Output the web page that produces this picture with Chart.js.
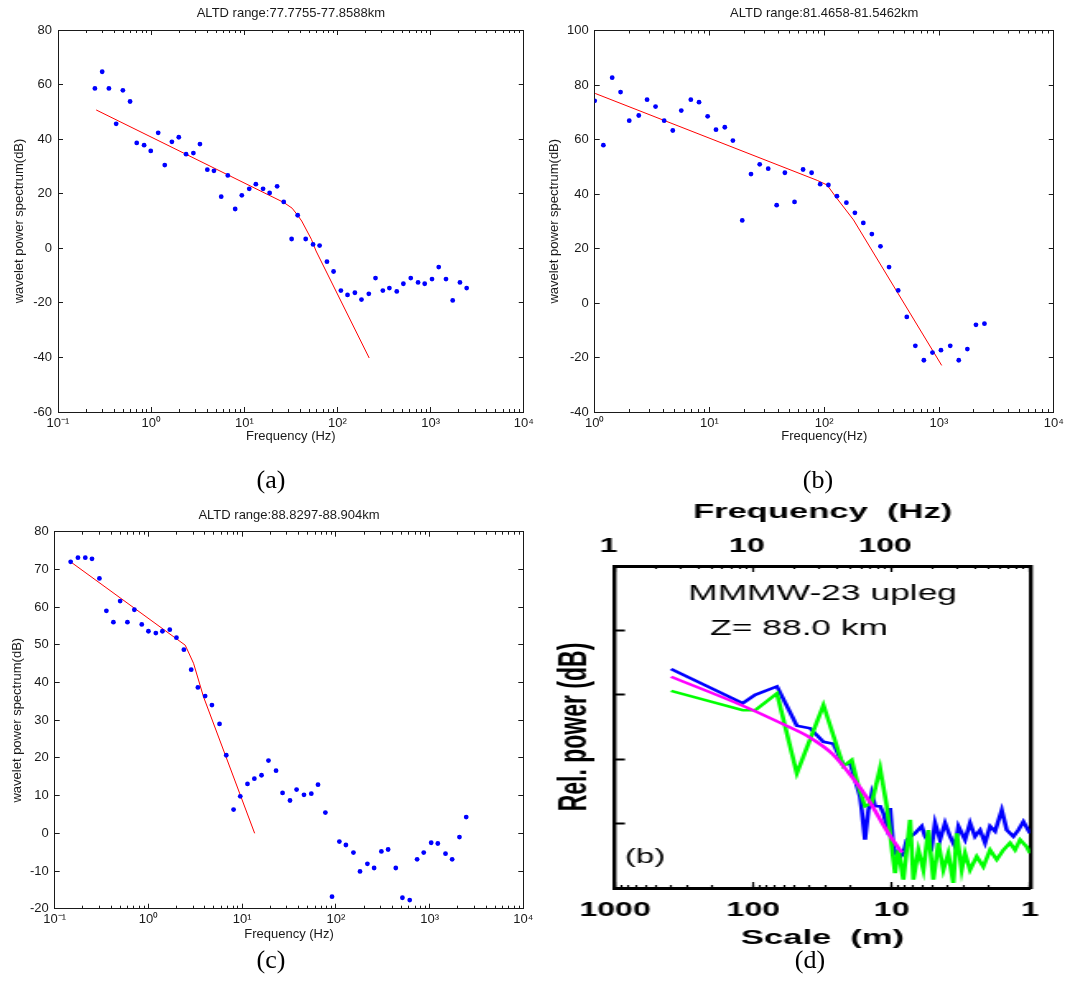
<!DOCTYPE html>
<html><head><meta charset="utf-8">
<script src="https://cdn.jsdelivr.net/npm/chart.js@4.4.1/dist/chart.umd.min.js"></script>
<style>
html,body{margin:0;padding:0;background:#fff;width:1070px;height:990px;overflow:hidden;}
.box{position:absolute;}
.lab{position:absolute;font-family:"Liberation Serif","Times New Roman",serif;font-size:26px;color:#000;width:60px;text-align:center;line-height:30px;}
</style></head><body>
<div class="box" style="left:0;top:0"><canvas id="ca" width="540" height="450"></canvas></div>
<div class="box" style="left:540px;top:0"><canvas id="cb" width="530" height="450"></canvas></div>
<div class="box" style="left:0;top:490px"><canvas id="cc" width="540" height="480"></canvas></div>
<div class="box" style="left:540px;top:490px;transform:scaleX(1.646);transform-origin:0 0"><canvas id="cd" width="322" height="480"></canvas></div>
<div class="lab" style="left:241px;top:465px">(a)</div>
<div class="lab" style="left:788px;top:465px">(b)</div>
<div class="lab" style="left:241px;top:945px">(c)</div>
<div class="lab" style="left:780px;top:945px">(d)</div>
<script>
// ---------- data ----------
const titleA = 'ALTD range:77.7755-77.8588km';
const titleB = 'ALTD range:81.4658-81.5462km';
const titleC = 'ALTD range:88.8297-88.904km';
const yLabelABC = 'wavelet power spectrum(dB)';

const freqA = [0.249,0.298,0.352,0.421,0.497,0.594,0.70,0.84,0.99,1.19,1.40,1.67,1.98,2.37,2.84,3.34,4.01,4.72,5.65,6.65,7.98,9.4,11.3,13.3,15.9,18.7,22.5,26.5,32.2,37.4,45.6,54.7,64.3,77.1,90.8,108.8,128.2,153.8,181,217,256,307,361,433,510,612,733,864,1035,1222,1462,1726,2065,2437];
const powA = [58.6,64.7,58.6,45.6,57.9,53.8,38.6,37.8,35.7,42.3,30.5,39.0,40.7,34.5,34.9,38.2,28.8,28.4,18.9,26.7,14.4,19.4,21.8,23.5,21.8,20.3,22.7,17.0,3.4,12.1,3.4,1.4,1.0,-4.9,-8.5,-15.5,-17.1,-16.3,-18.8,-16.7,-10.9,-15.5,-14.6,-15.8,-13.0,-10.9,-12.5,-13.0,-11.3,-6.9,-11.3,-19.1,-12.5,-14.6];
const fitFreqA = [0.257,26.5,32.6,37.4,41.3,52.5,58.9,219];
const fitPowA = [50.7,16.8,14.7,12.1,10.0,3.3,-1.0,-40.2];

const freqB = [1.0,1.19,1.42,1.68,2.0,2.42,2.86,3.39,4.03,4.79,5.68,6.88,8.11,9.64,11.4,13.6,16.0,19.3,23.0,27.4,32.5,38.5,45.4,55.1,65.4,77.6,92.2,108.7,129,156,185,219,260,309,367,441,524,622,738,877,1040,1253,1486,1766,2099,2489];
const powB = [74.2,57.9,82.7,77.4,66.9,68.8,74.6,72.1,66.9,63.3,70.6,74.6,73.7,68.5,63.6,64.5,59.6,30.3,47.3,50.9,49.3,35.9,47.8,37.1,49.0,47.8,43.6,43.3,39.2,36.8,33.1,29.4,25.3,20.8,13.2,4.6,-5.1,-15.7,-21.0,-18.2,-17.3,-15.7,-21.0,-16.9,-8.0,-7.6];
const fitFreqB = [1.01,86.9,105.9,124.7,179.8,1055];
const fitPowB = [76.9,45.0,43.3,39.2,30.5,-22.9];

const freqC = [0.148,0.177,0.212,0.250,0.300,0.356,0.423,0.499,0.597,0.708,0.849,1.0,1.2,1.41,1.69,1.99,2.39,2.86,3.37,4.03,4.76,5.74,6.77,8.1,9.55,11.4,13.5,16.1,19.1,23.0,27.0,32.4,38.1,45.7,54.7,64.5,77.3,91.0,109,128,154,181,217,256,306,361,436,513,614,736,866,1040,1224,1479,1741,2084,2459];
const powC = [72.0,73.1,73.1,72.8,67.6,59.0,56.0,61.6,56.0,59.3,55.4,53.6,53.1,53.6,54.0,51.9,48.7,43.4,38.7,36.4,34.0,29.0,20.7,6.3,9.8,13.1,14.5,15.4,19.3,16.6,10.7,8.7,11.6,10.2,10.5,12.9,5.5,-16.8,-2.2,-3.1,-5.1,-10.1,-8.1,-9.2,-4.8,-4.3,-9.2,-17.1,-17.7,-6.9,-5.1,-2.5,-2.7,-5.4,-6.9,-1.0,4.3];
const fitFreqC = [0.148,2.47,3.03,3.87,13.6];
const fitPowC = [72.0,49.9,45.1,36.2,0];

// panel (d): frequency (Hz) vs relative power (dB)
const freqDBlue = [2.54,8.38,10.3,14.8,20.6,25.7,32.1,37.8,44.7,50.0,54.3,59.0,60.7,64.1,67.8,71.7,75.8,82.4,87.1,92.1,97.3,102.8,111.7,121.4,128.5,147.5,164.8,174.2,194.6,205.7,223.5,243.0,264.1,287.0,303.4,329.6,338.8,368.3,400.3,435.1,472.9,514.0,558.6,624.6,678.8,757.6,823.4,895.0,1000];
const powDBlue = [34.0,28.7,30.0,31.3,25.2,24.8,22.7,22.4,19.1,19.4,16.8,14.2,12.1,7.5,12.1,14.7,12.7,12.7,11.6,9.6,12.4,6.4,4.4,5.4,7.5,8.5,9.6,8.0,6.4,10.1,7.5,10.1,8.0,6.4,9.6,8.0,7.5,10.1,8.0,9.0,7.0,9.6,8.8,12.1,9.0,8.0,9.0,10.3,8.5];
const freqDGreen = [2.54,8.38,10.3,14.8,20.6,32.1,44.7,51.4,57.4,64.1,71.7,82.4,92.1,100.0,105.7,111.7,121.4,135.8,143.5,155.9,169.4,184.1,200.0,217.3,236.1,256.6,278.9,295.1,320.6,338.8,368.3,411.9,459.5,514.0,574.4,641.1,716.6,779.2,847.1,946.2,1000];
const powDGreen = [30.6,27.6,27.6,30.2,17.8,28.4,18.9,19.9,15.8,12.7,13.2,18.6,12.7,6.4,2.3,5.9,1.3,10.6,1.3,5.9,2.8,9.0,1.3,7.0,2.8,5.4,0.8,8.5,2.8,5.4,2.8,4.9,3.3,5.9,4.4,5.9,7.0,5.9,7.5,6.4,5.4];
const freqDFit = [2.54,8.38,16.9,25.0,36.9,51.4,67.8,94.6,118.2];
const powDFit = [32.8,28.3,25.3,23.5,20.9,17.3,13.7,8.5,5.5];
const notesD = ['MMMW-23 upleg', 'Z= 88.0 km', '(b)'];

// ---------- helpers ----------
const AX = '#1a1a1a';
const FONT = '"Liberation Sans", Arial, Helvetica, sans-serif';
const SUP = {'-':'\u207B','0':'\u2070','1':'\u00B9','2':'\u00B2','3':'\u00B3','4':'\u2074','5':'\u2075','6':'\u2076','7':'\u2077','8':'\u2078','9':'\u2079'};
function isPow10(v){ const e = Math.log10(v); return Math.abs(e - Math.round(e)) < 1e-6; }
function powLabel(v){ if(!isPow10(v)) return ''; const r = Math.round(Math.log10(v)); return '10' + String(r).split('').map(c => SUP[c]).join(''); }
function tickList(lo, hi, majorOnly){
  const out = [];
  for (let e = lo; e <= hi; e++){
    const maxM = (e === hi || majorOnly) ? 1 : 9;
    for (let m = 1; m <= maxM; m++) out.push({value: parseFloat((m*Math.pow(10,e)).toPrecision(8))});
  }
  return out;
}
const pts = (xs, ys) => xs.map((x,i) => ({x, y: ys[i]}));

function hAxis(o){
  return {
    type:'logarithmic', axis:'x', position:o.position, min:Math.pow(10,o.lo), max:Math.pow(10,o.hi),
    reverse:!!o.reverse, weight:o.weight||0,
    afterBuildTicks: s => { s.ticks = tickList(o.lo, o.hi, !!o.majorOnly); },
    afterFit: s => { s.height = o.size; },
    grid:{display:true, drawOnChartArea:false, drawTicks:true, tickLength:-o.len, color:o.color||AX, tickWidth:o.tickWidth||1},
    border:{display:!!o.border, color:o.color||AX, width:o.borderWidth||1},
    ticks:{display:!!o.labelCb, autoSkip:false, maxRotation:0, minRotation:0, padding:o.labelPad||0, labelOffset:o.labelOffset||0,
      font:o.tickFont, color:o.color||AX, callback:o.labelCb || (() => '')},
    title: o.title ? {display:true, text:o.title, font:o.titleFont, color:o.color||AX, padding:o.titlePad} : {display:false}
  };
}
function vAxis(o){
  return {
    type:'linear', axis:'y', position:o.position, min:o.min, max:o.max, weight:o.weight||0,
    afterFit: s => { s.width = o.size; },
    grid:{display:true, drawOnChartArea:false, drawTicks:o.len>0, tickLength:-o.len, color:o.color||AX, tickWidth:o.tickWidth||1},
    border:{display:true, color:o.color||AX, width:o.borderWidth||1},
    ticks:{display:!!o.labels, stepSize:o.step, autoSkip:false, padding:o.labelPad||0, font:o.tickFont, color:o.color||AX},
    title: o.title ? {display:true, text:o.title, font:o.titleFont, color:o.color||AX, padding:o.titlePad} : {display:false}
  };
}

function matlabPanel(id, c){
  const f13 = {family:FONT, size:13};
  const A = c.area;
  new Chart(document.getElementById(id), {
    type:'scatter',
    data:{datasets:[
      {data:pts(c.x, c.y), xAxisID:'x', yAxisID:'y', backgroundColor:'#0000ff', borderColor:'#0000ff', borderWidth:0, pointRadius:2.4, showLine:false},
      {data:pts(c.fx, c.fy), xAxisID:'x', yAxisID:'y', showLine:true, borderColor:'#ff0000', borderWidth:1, pointRadius:0, tension:0, fill:false}
    ]},
    options:{
      responsive:false, animation:false, events:[], devicePixelRatio:1,
      layout:{padding:0},
      plugins:{legend:{display:false}, tooltip:{enabled:false}, title:{display:false}},
      scales:{
        x: hAxis({position:'bottom', lo:c.lo, hi:c.hi, size:c.H - A.b, len:3, weight:2, border:true, labelCb:powLabel, tickFont:f13, labelPad:6.2, title:c.xlabel, titleFont:f13, titlePad:{top:0, bottom:c.xlabPad}}),
        xM: hAxis({position:'bottom', lo:c.lo, hi:c.hi, size:0, len:5, weight:0, majorOnly:true}),
        xt: hAxis({position:'top', lo:c.lo, hi:c.hi, size:A.t, len:3, weight:2, border:true, title:c.title, titleFont:f13, titlePad:{top:c.titlePad, bottom:0}}),
        xtM: hAxis({position:'top', lo:c.lo, hi:c.hi, size:0, len:5, weight:0, majorOnly:true}),
        y: vAxis({position:'left', min:c.ymin, max:c.ymax, step:c.step, size:A.l, len:5, labels:true, labelPad:11, tickFont:f13, title:yLabelABC, titleFont:f13, titlePad:{top:c.ylabPad, bottom:0}}),
        y2: vAxis({position:'right', min:c.ymin, max:c.ymax, step:c.step, size:c.W - A.r, len:5})
      }
    }
  });
}

matlabPanel('ca', {W:540, H:450, area:{l:58, t:30, r:525, b:412}, lo:-1, hi:4, ymin:-60, ymax:80, step:20,
  x:freqA, y:powA, fx:fitFreqA, fy:fitPowA, title:titleA, xlabel:'Frequency (Hz)', titlePad:5.2, xlabPad:6.2, ylabPad:11.2});
matlabPanel('cb', {W:530, H:450, area:{l:54.7, t:30.5, r:519.3, b:412}, lo:0, hi:4, ymin:-40, ymax:100, step:20,
  x:freqB, y:powB, fx:fitFreqB, fy:fitPowB, title:titleB, xlabel:'Frequency(Hz)', titlePad:5.2, xlabPad:6.2, ylabPad:6.2});
matlabPanel('cc', {W:540, H:480, area:{l:54.7, t:41.7, r:523.3, b:418.7}, lo:-1, hi:4, ymin:-20, ymax:80, step:10,
  x:freqC, y:powC, fx:fitFreqC, fy:fitPowC, title:titleC, xlabel:'Frequency (Hz)', titlePad:17.2, xlabPad:28.2, ylabPad:9.2});

// ---------- panel (d) ----------
const noteD = {id:'noteD', afterDatasetsDraw(chart){
  const {ctx, chartArea:a} = chart;
  ctx.save();
  ctx.fillStyle = '#000';
  ctx.textBaseline = 'alphabetic';
  ctx.font = '21.5px ' + FONT;
  ctx.textAlign = 'center';
  ctx.fillText(notesD[0], (a.left + a.right)/2, a.top + 34);
  ctx.textAlign = 'left';
  ctx.fillText(notesD[1], a.left + 57.7, a.top + 69);
  ctx.font = '20px ' + FONT;
  ctx.fillText(notesD[2], a.left + 6, a.bottom - 25);
  ctx.restore();
}};
const bold = (s) => ({family:FONT, size:s, weight:'bold'});
const topLab = v => (isPow10(v) && Math.round(Math.log10(v)) < 3) ? String(Math.round(v)) : '';
const botLab = v => isPow10(v) ? String(Math.round(v)) : '';
new Chart(document.getElementById('cd'), {
  type:'scatter',
  data:{datasets:[
    {data:pts(freqDFit, powDFit), xAxisID:'xTop', yAxisID:'y', showLine:true, borderColor:'#ff00ff', borderWidth:2.6, pointRadius:0, tension:0.4, cubicInterpolationMode:'monotone', fill:false},
    {data:pts(freqDGreen, powDGreen), xAxisID:'xTop', yAxisID:'y', showLine:true, borderColor:'#00ff00', borderWidth:2.6, pointRadius:0, tension:0, fill:false},
    {data:pts(freqDBlue, powDBlue), xAxisID:'xTop', yAxisID:'y', showLine:true, borderColor:'#0000ff', borderWidth:2.6, pointRadius:0, tension:0, fill:false}
  ]},
  options:{
    responsive:false, animation:false, events:[], devicePixelRatio:1,
    layout:{padding:0},
    plugins:{legend:{display:false}, tooltip:{enabled:false}, title:{display:false}},
    scales:{
      xTop: hAxis({position:'top', lo:0, hi:3, size:76, len:3, weight:2, border:true, borderWidth:3, color:'#000', tickWidth:1.2,
        labelCb:topLab, tickFont:bold(19.5), labelPad:10.3, labelOffset:-4, title:'Frequency  (Hz)', titleFont:bold(21), titlePad:{top:9.4, bottom:0}}),
      xTopM: hAxis({position:'top', lo:0, hi:3, size:0, len:6, weight:0, majorOnly:true, color:'#000', tickWidth:1.2}),
      xBot: hAxis({position:'bottom', lo:0, hi:3, reverse:true, size:82, len:3, weight:2, border:true, borderWidth:3, color:'#000', tickWidth:1.2,
        labelCb:botLab, tickFont:bold(19.5), labelPad:14.3, title:'Scale  (m)', titleFont:bold(21), titlePad:{top:0, bottom:19.4}}),
      xBotM: hAxis({position:'bottom', lo:0, hi:3, reverse:true, size:0, len:6, weight:0, majorOnly:true, color:'#000', tickWidth:1.2}),
      y: vAxis({position:'left', min:0, max:50, step:10, size:45.6, len:6, color:'#000', borderWidth:2.4, tickWidth:2,
        title:'Rel. power (dB)', titleFont:bold(23), titlePad:{top:7.4, bottom:0}}),
      y2: vAxis({position:'right', min:0, max:50, step:10, size:24.3, len:0, color:'#000', borderWidth:2.4})
    }
  },
  plugins:[noteD]
});
</script>
</body></html>
